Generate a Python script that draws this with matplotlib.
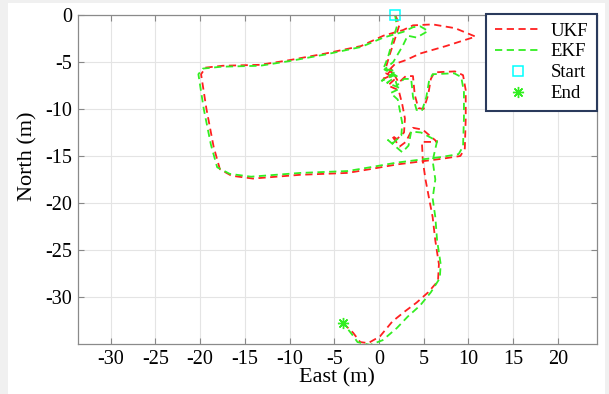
import numpy as np
import matplotlib
matplotlib.use("Agg")
import matplotlib.pyplot as plt
from matplotlib.patches import Rectangle

# --- data (East, North) in metres ---
ukf_east = [1.8, 2.3, 1.8, 1.2, 0.8, 1.6, 0.5, 1.4, 2.2, 3.0, 3.8, 4.0, 4.4, 5.0, 5.5,
            5.8, 6.2, 8.5, 9.4, 9.7, 9.7, 9.6, 9.1, 7.0, 4.5, 2.0, -1.0, -3.5, -8.8, -14.1,
            -16.5, -17.8, -18.5, -19.3, -19.9, -19.4, -17.5, -13.3, -10.0, -6.0, -2.0,
            0.5, 2.7, 3.8, 6.0, 8.5, 10.8, 7.5, 4.6, 3.0, 1.8, 0.8, 1.8, 1.0, 2.2, 2.6,
            2.9, 2.8, 2.0, 1.4, 2.3, 3.0, 3.8, 4.9, 6.5, 4.8, 4.9, 5.2, 5.6, 6.0, 6.3,
            6.7, 6.6, 5.5, 4.2, 2.8, 1.5, 0.1, -1.2, -2.1, -2.9, -4.0]
ukf_north = [0.0, -1.0, -2.5, -4.2, -5.5, -6.3, -6.8, -5.8, -7.2, -6.5, -6.5, -8.5, -9.9, -10.0, -8.5,
             -6.8, -6.1, -6.0, -6.4, -8.0, -11.0, -14.2, -15.0, -15.3, -15.6, -15.9, -16.4, -16.8, -17.0, -17.4,
             -17.1, -16.4, -14.0, -10.0, -6.3, -5.6, -5.4, -5.3, -4.8, -4.1, -3.3,
             -2.2, -1.6, -1.1, -1.0, -1.4, -2.3, -3.3, -4.1, -4.8, -5.2, -6.2, -6.8, -7.5, -8.0, -9.5,
             -11.0, -12.5, -13.2, -12.8, -14.0, -13.5, -12.0, -12.2, -13.5, -13.5, -15.5, -17.5, -19.5, -21.5, -24.0,
             -26.5, -28.3, -29.5, -30.6, -31.6, -32.6, -34.2, -34.9, -34.8, -33.8, -32.8]

ekf_east = [1.8, 2.0, 1.5, 1.0, 0.5, 1.9, 0.3, 1.7, 2.0, 2.8, 3.6, 3.8, 4.2, 4.8, 5.3,
            5.6, 6.0, 8.4, 9.2, 9.5, 9.5, 9.4, 8.9, 7.0, 4.5, 2.0, -1.0, -3.5, -8.8, -14.3,
            -16.7, -18.1, -18.8, -19.6, -20.2, -19.7, -17.6, -13.3, -10.0, -6.0, -2.0,
            0.5, 2.7, 3.8, 4.6, 5.5, 4.2, 3.2, 2.7, 1.6, 0.6, 2.0, 0.9, 2.4, 1.3, 2.1, 2.4,
            2.6, 2.5, 1.6, 1.0, 2.6, 3.3, 3.6, 4.7, 6.5, 6.0, 6.3, 6.0, 6.3, 6.5, 6.9,
            6.8, 5.8, 4.6, 3.2, 2.0, 0.4, -1.0, -2.4, -3.0, -4.0]
ekf_north = [0.0, -1.2, -2.8, -4.5, -5.7, -6.0, -7.0, -6.4, -7.5, -6.8, -6.8, -8.7, -10.1, -10.2, -8.7,
             -7.0, -6.3, -6.2, -6.6, -8.2, -11.0, -14.0, -14.8, -15.1, -15.4, -15.7, -16.2, -16.6, -16.8, -17.2,
             -16.9, -16.2, -13.8, -10.0, -6.3, -5.7, -5.5, -5.4, -4.9, -4.2, -3.4,
             -2.4, -1.8, -1.3, -1.2, -1.7, -2.4, -2.2, -3.2, -5.0, -5.8, -6.5, -7.2, -7.8, -8.3, -9.0, -10.5,
             -11.5, -12.8, -13.6, -13.3, -14.6, -13.9, -12.4, -12.5, -13.4, -15.5, -17.5, -19.5, -21.5, -24.0, -26.5,
             -28.0, -29.5, -30.9, -32.1, -33.3, -34.6, -35.1, -34.8, -34.0, -32.8]

start_pt = (1.8, 0.0)
end_pt = (-4.0, -32.8)

xticks = [-30, -25, -20, -15, -10, -5, 0, 5, 10, 15, 20]
yticks = [0, -5, -10, -15, -20, -25, -30]

plt.rcParams['font.family'] = ['Liberation Serif', 'DejaVu Serif']

W, H = 609, 394
fig = plt.figure(figsize=(W / 100, H / 100), dpi=100, facecolor='#f0f0f0')
fig.patches.append(Rectangle((8 / W, 0), (W - 12) / W, (H - 3) / H, transform=fig.transFigure,
                             facecolor='white', edgecolor='none', zorder=-10))

ax = fig.add_axes([77.7 / W, 1 - 344 / H, (596.7 - 77.7) / W, (344 - 15) / H])
ax.plot(ukf_east, ukf_north, '--', color='#ff2020', lw=1.3, dashes=(4, 2.5), label='UKF')
ax.plot(ekf_east, ekf_north, '--', color='#33ee22', lw=1.3, dashes=(4, 2.5), label='EKF')
ax.plot([start_pt[0]], [start_pt[1]], 's', mfc='none', mec='cyan', ms=6.5, mew=1.1, label='Start', clip_on=False)
ax.plot([end_pt[0]], [end_pt[1]], marker=(8, 2, 0), color='#33ee22', ls='none', ms=8, mew=1.0, label='End')

ax.set_xlim(-33.7, 24.35)
ax.set_ylim(-35, 0)
ax.set_xticks(xticks)
ax.set_yticks(yticks)
ax.set_xticklabels([str(t) for t in xticks])
ax.set_yticklabels([str(t) for t in yticks])
ax.grid(True, color='#e4e4e4', lw=0.8)
ax.set_axisbelow(True)
ax.tick_params(direction='in', length=4, width=0.8, color='#888888', labelsize=14.5,
               top=True, right=True, labelcolor='black', pad=4)
for s in ax.spines.values():
    s.set_color('#8a8a8a')
    s.set_linewidth(0.9)
ax.set_xlabel('East (m)', fontsize=16, labelpad=0)
ax.set_ylabel('North (m)', fontsize=16, labelpad=4)
ax.yaxis.set_label_coords(-0.078, (344 - 156) / 329)

leg = ax.legend(loc='upper right', bbox_to_anchor=(1.0, 1.003), borderaxespad=0, fontsize=13.5,
                fancybox=False, framealpha=1, edgecolor='#2a3a5c', handlelength=2.5,
                handletextpad=0.5, labelspacing=0.2, borderpad=0.45)
leg.get_frame().set_linewidth(1.5)

fig.savefig('out.png', dpi=100, facecolor=fig.get_facecolor())
